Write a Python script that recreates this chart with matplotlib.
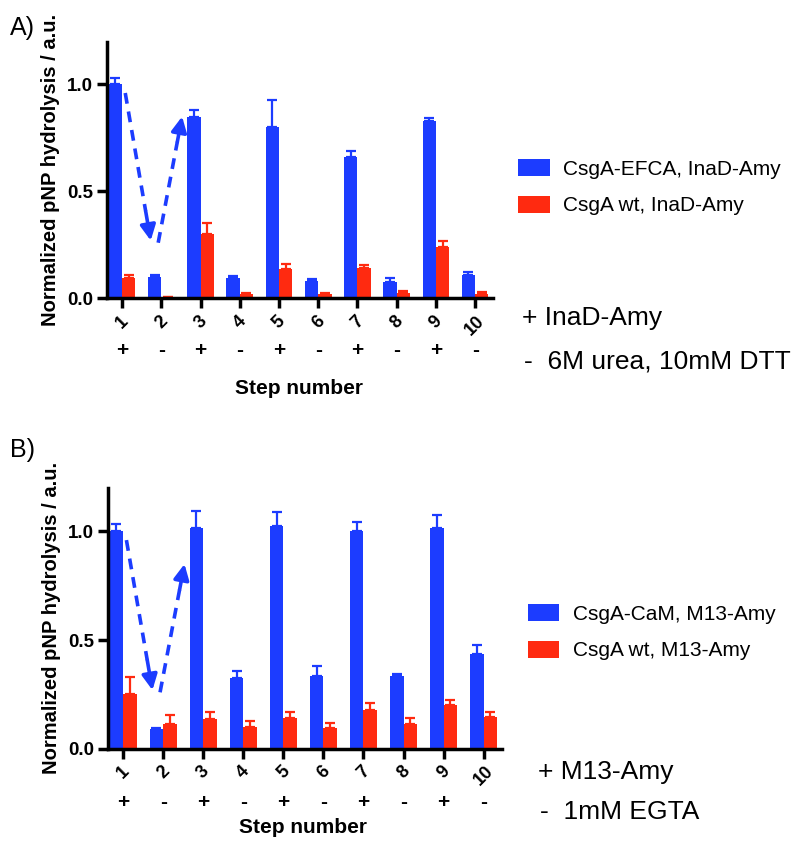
import numpy as np
import matplotlib
matplotlib.use("Agg")
import matplotlib.pyplot as plt
from matplotlib.transforms import blended_transform_factory

plt.rcParams['font.family'] = ['Liberation Sans', 'DejaVu Sans']

steps = [1, 2, 3, 4, 5, 6, 7, 8, 9, 10]
signs = ['+', '-', '+', '-', '+', '-', '+', '-', '+', '-']

# panel A: CsgA-EFCA vs CsgA wt with InaD-Amy
a_blue = [1.00, 0.10, 0.85, 0.095, 0.80, 0.08, 0.66, 0.075, 0.83, 0.11]
a_blue_err = [0.03, 0.008, 0.03, 0.01, 0.125, 0.01, 0.03, 0.018, 0.015, 0.015]
a_red = [0.093, 0.004, 0.30, 0.019, 0.135, 0.019, 0.14, 0.023, 0.24, 0.022]
a_red_err = [0.014, 0.0, 0.05, 0.007, 0.025, 0.005, 0.018, 0.011, 0.03, 0.008]

# panel B: CsgA-CaM vs CsgA wt with M13-Amy
b_blue = [1.00, 0.093, 1.015, 0.324, 1.027, 0.333, 1.00, 0.333, 1.017, 0.435]
b_blue_err = [0.035, 0.004, 0.078, 0.032, 0.06, 0.05, 0.043, 0.009, 0.058, 0.043]
b_red = [0.253, 0.113, 0.137, 0.102, 0.143, 0.096, 0.179, 0.116, 0.203, 0.145]
b_red_err = [0.077, 0.043, 0.031, 0.025, 0.027, 0.023, 0.031, 0.024, 0.023, 0.026]

blue = '#1c3cff'
red = '#ff2a10'


def drawPanel(ax, blueVals, blueErr, redVals, redErr, labels, signY, stepY):
    x = np.array(steps)
    w = 0.34
    ax.bar(x - w / 2, blueVals, w, color=blue, label=labels[0])
    ax.bar(x + w / 2, redVals, w, color=red, label=labels[1])
    n = len(steps)
    ax.errorbar(x - w / 2, blueVals, yerr=[np.zeros(n), blueErr], fmt='none',
                ecolor=blue, elinewidth=1.6, capsize=3.5, capthick=1.6)
    ax.errorbar(x + w / 2, redVals, yerr=[np.zeros(n), redErr], fmt='none',
                ecolor=red, elinewidth=1.6, capsize=3.5, capthick=1.6)

    ax.set_xlim(0.62, 10.45)
    ax.set_ylim(0, 1.2)
    ax.set_yticks([0, 0.5, 1.0])
    ax.set_yticklabels(['0.0', '0.5', '1.0'], fontweight='bold', fontsize=13.5)
    ax.set_xticks(x)
    ax.set_xticklabels([str(s) for s in steps], rotation=45, ha='center',
                       va='top', fontweight='bold', fontsize=13)
    for s in ['top', 'right']:
        ax.spines[s].set_visible(False)
    for s in ['left', 'bottom']:
        ax.spines[s].set_linewidth(2.5)
    ax.tick_params(width=2.5, length=7, direction='out', pad=3)
    ax.set_ylabel('Normalized pNP hydrolysis / a.u.', fontweight='bold',
                  fontsize=14.5, labelpad=5)

    tr = blended_transform_factory(ax.transData, ax.transAxes)
    for xi, sg in zip(x, signs):
        ax.text(xi, signY, sg, transform=tr, ha='center', va='center',
                fontweight='bold', fontsize=15)
    ax.text(5.5, stepY, 'Step number', transform=tr, ha='center',
            va='center', fontweight='bold', fontsize=15)

    # dashed arrows showing on/off cycling
    for (x0, y0), (x1, y1) in [((1.08, 0.96), (1.73, 0.27)),
                               ((1.92, 0.26), (2.53, 0.85))]:
        xs = x0 + (x1 - x0) * 0.80
        ys = y0 + (y1 - y0) * 0.80
        ax.plot([x0, xs], [y0, ys], color=blue, lw=2.6, ls=(0, (3, 2.2)))
        ax.annotate('', xy=(x1, y1), xytext=(xs, ys),
                    arrowprops=dict(arrowstyle='-|>', color=blue, lw=2.6,
                                    mutation_scale=23, shrinkA=0, shrinkB=0))


fig = plt.figure(figsize=(8, 8.5), dpi=100)
axA = fig.add_axes([0.134, 0.649, 0.482, 0.302])
axB = fig.add_axes([0.135, 0.119, 0.492, 0.307])

drawPanel(axA, a_blue, a_blue_err, a_red, a_red_err,
          ['CsgA-EFCA, InaD-Amy', 'CsgA wt, InaD-Amy'], -0.205, -0.35)
drawPanel(axB, b_blue, b_blue_err, b_red, b_red_err,
          ['CsgA-CaM, M13-Amy', 'CsgA wt, M13-Amy'], -0.205, -0.30)

for ax, loc in [(axA, (0.648, 1 - 159 / 850)), (axB, (0.660, 1 - 604 / 850))]:
    ax.legend(loc='upper left', bbox_to_anchor=loc, bbox_transform=fig.transFigure,
              frameon=False, fontsize=15, handlelength=1.5, handleheight=0.9,
              labelspacing=0.8, handletextpad=0.65, borderpad=0, borderaxespad=0)

fig.text(0.012, 0.967, 'A)', fontsize=18, va='center')
fig.text(0.012, 0.470, 'B)', fontsize=18, va='center')

fig.text(0.652, 1 - 318 / 850, '+ InaD-Amy', fontsize=19, va='center')
fig.text(0.655, 1 - 361 / 850, '-  6M urea, 10mM DTT', fontsize=19, va='center')
fig.text(0.672, 1 - 772 / 850, '+ M13-Amy', fontsize=19, va='center')
fig.text(0.675, 1 - 812 / 850, '-  1mM EGTA', fontsize=19, va='center')

fig.savefig('out.png', dpi=100)
